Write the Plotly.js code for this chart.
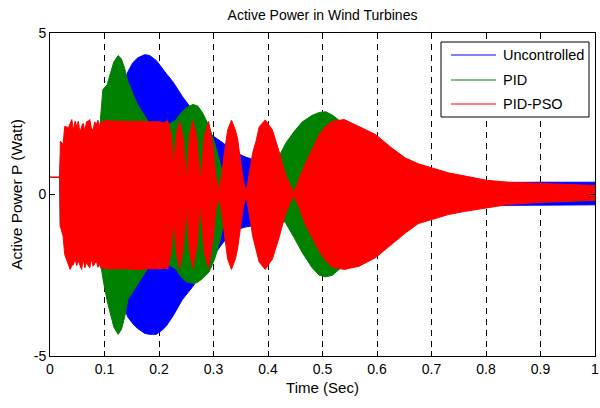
<!DOCTYPE html>
<html>
<head>
<meta charset="utf-8">
<script src="https://cdn.plot.ly/plotly-3.0.1.min.js"></script>
<style>html,body{margin:0;padding:0;background:#fff;}#chart{width:600px;height:408px;}</style>
</head>
<body>
<div id="chart"></div>
<script>
// Envelopes (upper / lower extremes) of each oscillating signal
const seriesNames = ["Uncontrolled", "PID", "PID-PSO"];

const tBlue  = [0.000,0.018,0.019,0.095,0.100,0.120,0.131,0.143,0.152,0.161,0.174,0.183,0.195,0.207,0.213,0.225,0.243,0.262,0.287,0.300,0.317,0.340,0.360,0.400,0.450,0.550,0.650,0.750,0.800,0.840,0.900,1.000];
const hiBlue = [0.53,0.53,1.00,1.50,2.00,3.00,3.30,3.80,4.08,4.23,4.33,4.30,4.15,3.87,3.75,3.50,3.03,2.60,2.00,1.80,1.60,1.30,1.15,0.95,0.85,0.70,0.55,0.40,0.37,0.38,0.38,0.38];
const loBlue = [0.53,0.53,-1.00,-1.50,-2.00,-2.90,-3.30,-3.80,-4.00,-4.15,-4.30,-4.33,-4.33,-4.18,-4.08,-3.78,-3.25,-2.85,-2.23,-1.90,-1.50,-1.10,-1.00,-0.90,-0.80,-0.65,-0.50,-0.38,-0.34,-0.33,-0.33,-0.32];

const tGreen  = [0.000,0.018,0.019,0.090,0.097,0.105,0.110,0.114,0.117,0.125,0.131,0.137,0.143,0.160,0.190,0.220,0.231,0.238,0.250,0.262,0.271,0.280,0.292,0.302,0.311,0.317,0.330,0.355,0.380,0.424,0.433,0.448,0.463,0.481,0.494,0.506,0.518,0.530,0.560,0.600,0.700,0.800,1.000];
const hiGreen = [0.53,0.53,1.20,1.80,3.25,3.40,3.70,3.97,4.10,4.30,4.20,3.90,3.50,2.80,2.00,2.20,2.30,2.48,2.68,2.79,2.74,2.53,2.11,1.60,1.08,0.67,0.30,0.10,0.60,1.30,1.60,1.95,2.25,2.45,2.54,2.56,2.46,2.30,1.90,1.40,0.60,0.30,0.20];
const loGreen = [0.53,0.53,-1.00,-1.80,-2.60,-3.30,-3.65,-3.90,-4.10,-4.33,-4.18,-3.80,-3.25,-2.80,-2.00,-2.20,-2.30,-2.50,-2.70,-2.75,-2.72,-2.60,-2.40,-2.00,-1.50,-1.00,-0.40,-0.10,-0.40,-0.70,-0.90,-1.34,-1.80,-2.27,-2.50,-2.55,-2.50,-2.35,-1.90,-1.50,-0.60,-0.30,-0.18];

const tRed  = [0.000,0.018,0.019,0.024,0.027,0.034,0.037,0.040,0.043,0.046,0.049,0.052,0.055,0.058,0.061,0.064,0.067,0.070,0.073,0.076,0.079,0.082,0.085,0.088,0.091,0.094,0.0975,0.100,0.120,0.140,0.160,0.180,0.200,0.208,0.216,0.222,0.227,0.232,0.238,0.245,0.250,0.256,0.262,0.269,0.276,0.283,0.291,0.299,0.304,0.309,0.314,0.320,0.326,0.333,0.340,0.344,0.350,0.355,0.360,0.366,0.372,0.378,0.384,0.395,0.408,0.420,0.433,0.447,0.457,0.469,0.481,0.494,0.506,0.518,0.540,0.567,0.597,0.627,0.652,0.676,0.700,0.731,0.762,0.801,0.841,0.902,0.950,1.000];
const hiRed = [0.53,0.53,1.65,1.55,2.11,2.07,2.20,2.32,2.00,2.27,2.10,2.27,1.90,2.11,2.20,1.96,2.25,2.27,2.32,2.05,2.00,2.25,2.17,2.30,2.07,2.25,2.22,2.30,2.27,2.27,2.27,2.25,2.25,2.22,2.28,1.90,0.90,1.90,2.27,1.70,0.40,1.80,2.30,1.80,0.35,1.80,2.26,1.50,0.60,0.15,0.50,1.30,2.00,2.30,2.00,1.75,1.00,0.40,0.08,0.67,1.30,1.65,2.10,2.31,2.00,1.35,0.57,0.06,0.46,0.98,1.39,1.86,2.11,2.27,2.32,2.11,1.86,1.44,1.13,0.95,0.83,0.67,0.57,0.44,0.38,0.34,0.31,0.28];
const loRed = [0.53,0.53,-0.98,-1.29,-1.86,-2.17,-2.32,-2.20,-2.17,-2.00,-2.20,-2.06,-2.20,-2.32,-2.00,-2.27,-2.10,-2.20,-2.27,-2.00,-2.22,-2.15,-2.06,-2.25,-2.17,-2.30,-2.20,-2.30,-2.30,-2.30,-2.32,-2.30,-2.30,-2.28,-2.30,-1.80,-0.80,-1.80,-2.30,-1.60,-0.35,-1.75,-2.30,-1.70,-0.30,-1.80,-2.30,-1.40,-0.50,-0.10,-0.45,-1.30,-2.00,-2.32,-2.00,-1.70,-0.95,-0.35,-0.05,-0.65,-1.30,-1.65,-2.10,-2.32,-2.00,-1.35,-0.55,-0.03,-0.40,-0.95,-1.35,-1.75,-2.05,-2.25,-2.32,-2.22,-1.96,-1.55,-1.19,-0.90,-0.77,-0.62,-0.52,-0.41,-0.31,-0.24,-0.21,-0.18];

const xTickVals = [0,0.1,0.2,0.3,0.4,0.5,0.6,0.7,0.8,0.9,1];
const xTickText = ["0","0.1","0.2","0.3","0.4","0.5","0.6","0.7","0.8","0.9","1"];
const yTickVals = [-5,0,5];
const yTickText = ["-5","0","5"];

const colors = ["#0000ff", "#008000", "#ff0000"];
const FONT = "Liberation Sans, Arial, sans-serif";

function band(t, hi, lo, color) {
  return {
    x: t.concat(t.slice().reverse()),
    y: hi.concat(lo.slice().reverse()),
    type: "scatter", mode: "lines", fill: "toself",
    fillcolor: color, line: {color: color, width: 1},
    hoverinfo: "skip", showlegend: false
  };
}

const data = [
  band(tBlue, hiBlue, loBlue, colors[0]),
  band(tGreen, hiGreen, loGreen, colors[1]),
  band(tRed, hiRed, loRed, colors[2])
];

// manual MATLAB-style legend (paper coords derived from pixel box)
const L = 50, R = 595, T = 33, B = 356;
const px = v => (v - L) / (R - L);
const py = v => (B - v) / (B - T);
const shapes = [{type: "rect", xref: "paper", yref: "paper", x0: px(441), x1: px(589), y0: py(117), y1: py(42), line: {color: "#000", width: 1}, fillcolor: "#fff", layer: "above"}];
const annotations = [];
const rowY = [55, 80, 104];
seriesNames.forEach((name, i) => {
  shapes.push({type: "line", xref: "paper", yref: "paper", x0: px(451), x1: px(496), y0: py(rowY[i]), y1: py(rowY[i]), line: {color: colors[i], width: 1}, layer: "above"});
  annotations.push({xref: "paper", yref: "paper", x: px(501), y: py(rowY[i]), xanchor: "left", yanchor: "middle", text: name, showarrow: false, font: {family: FONT, size: 14.5, color: "#000"}});
});

const layout = {
  width: 600, height: 408,
  margin: {l: L, r: 600 - R, t: T, b: 408 - B, pad: 0},
  paper_bgcolor: "#fff", plot_bgcolor: "#fff",
  showlegend: false,
  title: {text: "Active Power in Wind Turbines", font: {family: FONT, size: 14, color: "#000"}, x: 0.5, xref: "paper", xanchor: "center", y: 1 - 15 / 408, yref: "container", yanchor: "middle"},
  xaxis: {
    range: [0, 1], tickmode: "array", tickvals: xTickVals, ticktext: xTickText,
    ticks: "inside", ticklen: 5, tickcolor: "#000", tickwidth: 1,
    showline: true, linecolor: "#000", linewidth: 1, mirror: "ticks",
    showgrid: true, gridcolor: "#000", gridwidth: 1, griddash: "6px,5px",
    zeroline: false, ticklabeloverflow: "allow",
    tickfont: {family: FONT, size: 14, color: "#000"},
    title: {text: "Time (Sec)", font: {family: FONT, size: 15, color: "#000"}, standoff: 6}
  },
  yaxis: {
    range: [-5, 5], tickmode: "array", tickvals: yTickVals, ticktext: yTickText,
    ticks: "inside", ticklen: 5, tickcolor: "#000", tickwidth: 1,
    showline: true, linecolor: "#000", linewidth: 1, mirror: "ticks",
    showgrid: false, zeroline: false, ticklabeloverflow: "allow",
    tickfont: {family: FONT, size: 14, color: "#000"},
    title: {text: "Active Power P (Watt)", font: {family: FONT, size: 15.5, color: "#000"}, standoff: 7}
  },
  shapes: shapes,
  annotations: annotations
};

Plotly.newPlot("chart", data, layout, {displayModeBar: false, staticPlot: true});
</script>
</body>
</html>
